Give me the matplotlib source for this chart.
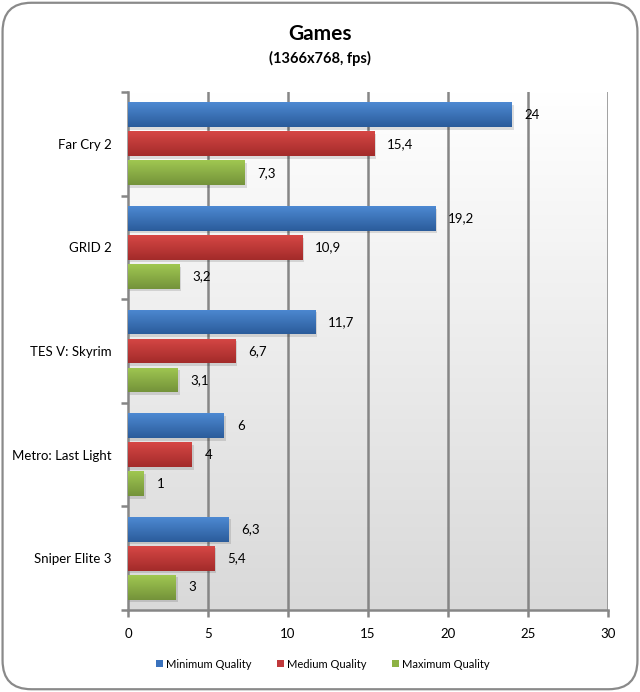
import matplotlib.pyplot as plt
import numpy as np
from matplotlib.patches import FancyBboxPatch, Rectangle
from matplotlib.colors import LinearSegmentedColormap

games = ['Far Cry 2', 'GRID 2', 'TES V: Skyrim', 'Metro: Last Light', 'Sniper Elite 3']
minimum = [24, 19.2, 11.7, 6, 6.3]
medium = [15.4, 10.9, 6.7, 4, 5.4]
maximum = [7.3, 3.2, 3.1, 1, 3]
series_names = ['Minimum Quality', 'Medium Quality', 'Maximum Quality']

# top / bottom gradient colors for each series
grads = [('#4d89d2', '#2b5c9b'), ('#d64745', '#a32b2a'), ('#a0c751', '#74933a')]
solid = ['#3a72bd', '#c0393b', '#8db243']

font = 'Lato'
plt.rcParams['font.family'] = [font, 'DejaVu Sans']

fig = plt.figure(figsize=(6.4, 6.92), dpi=100)
ax = fig.add_axes([0.2, 0.1185, 0.75, 0.7485])

# outer rounded border
border = FancyBboxPatch((0.004, 0.004), 0.992, 0.992, boxstyle='round,pad=0,rounding_size=0.045',
                        transform=fig.transFigure, fc='white', ec='#8a8a8a', lw=1.6,
                        mutation_aspect=640 / 692, zorder=-10)
fig.patches.append(border)

xmax = 30
n = len(games)
ax.set_xlim(0, xmax)
ax.set_ylim(n - 0.5, -0.5)

# plot area gradient background
bg = LinearSegmentedColormap.from_list('bg', ['#ffffff', '#d9d9d9'])
ax.imshow(np.linspace(0, 1, 256).reshape(-1, 1), cmap=bg, aspect='auto',
          extent=[0, xmax, n - 0.5, -0.5], zorder=0)

for gx in range(5, xmax + 1, 5):
    ax.axvline(gx, color='#868686', lw=1.8, zorder=1)

offsets = [-0.28, 0, 0.28]
h = 0.24
for s, vals in enumerate([minimum, medium, maximum]):
    cmap = LinearSegmentedColormap.from_list('g%d' % s, [grads[s][0], grads[s][1]])
    for i, v in enumerate(vals):
        y = i + offsets[s]
        # soft shadow
        ax.add_patch(Rectangle((0, y - h / 2 + 0.025), v + 0.12, h, fc='#000000', alpha=0.12,
                               lw=0, zorder=2))
        bar = ax.barh(y, v, height=h, color=solid[s], lw=0, zorder=3)[0]
        im = ax.imshow(np.linspace(0, 1, 64).reshape(-1, 1), cmap=cmap, aspect='auto',
                       extent=[0, v, y + h / 2, y - h / 2], zorder=3.5)
        im.set_clip_path(bar)
        label = ('%g' % v).replace('.', ',')
        ax.text(v + 0.8, y, label, va='center', ha='left', fontsize=9.5, color='black', zorder=5)

ax.set_xticks(range(0, xmax + 1, 5))
ax.set_yticks(range(n))
ax.set_yticklabels(games, fontsize=9.5)
ax.set_yticks(np.arange(-0.5, n, 1), minor=True)
ax.tick_params(axis='y', which='major', length=0, pad=12)
ax.tick_params(axis='y', which='minor', length=5, width=1.8, color='#868686', direction='out')
ax.tick_params(axis='x', length=5, width=1.8, color='#868686', labelsize=9.5, pad=8)
ax.set_ylim(n - 0.5, -0.5)
ax.set_xlim(0, xmax)

for side in ['top', 'right']:
    ax.spines[side].set_visible(False)
for side in ['left', 'bottom']:
    ax.spines[side].set_color('#868686')
    ax.spines[side].set_linewidth(1.8)

fig.text(0.5, 0.951, 'Games', ha='center', va='center', fontsize=15, fontweight='bold')
fig.text(0.5, 0.916, '(1366x768, fps)', ha='center', va='center', fontsize=10.5, fontweight='bold')

handles = [Rectangle((0, 0), 1, 1, fc=solid[k]) for k in range(3)]
fig.legend(handles, series_names, loc='center', bbox_to_anchor=(0.505, 0.04), ncol=3, frameon=False,
           fontsize=8, handlelength=0.6, handleheight=0.6, handletextpad=0.3, columnspacing=2.3)

fig.savefig('out.png', dpi=100)
